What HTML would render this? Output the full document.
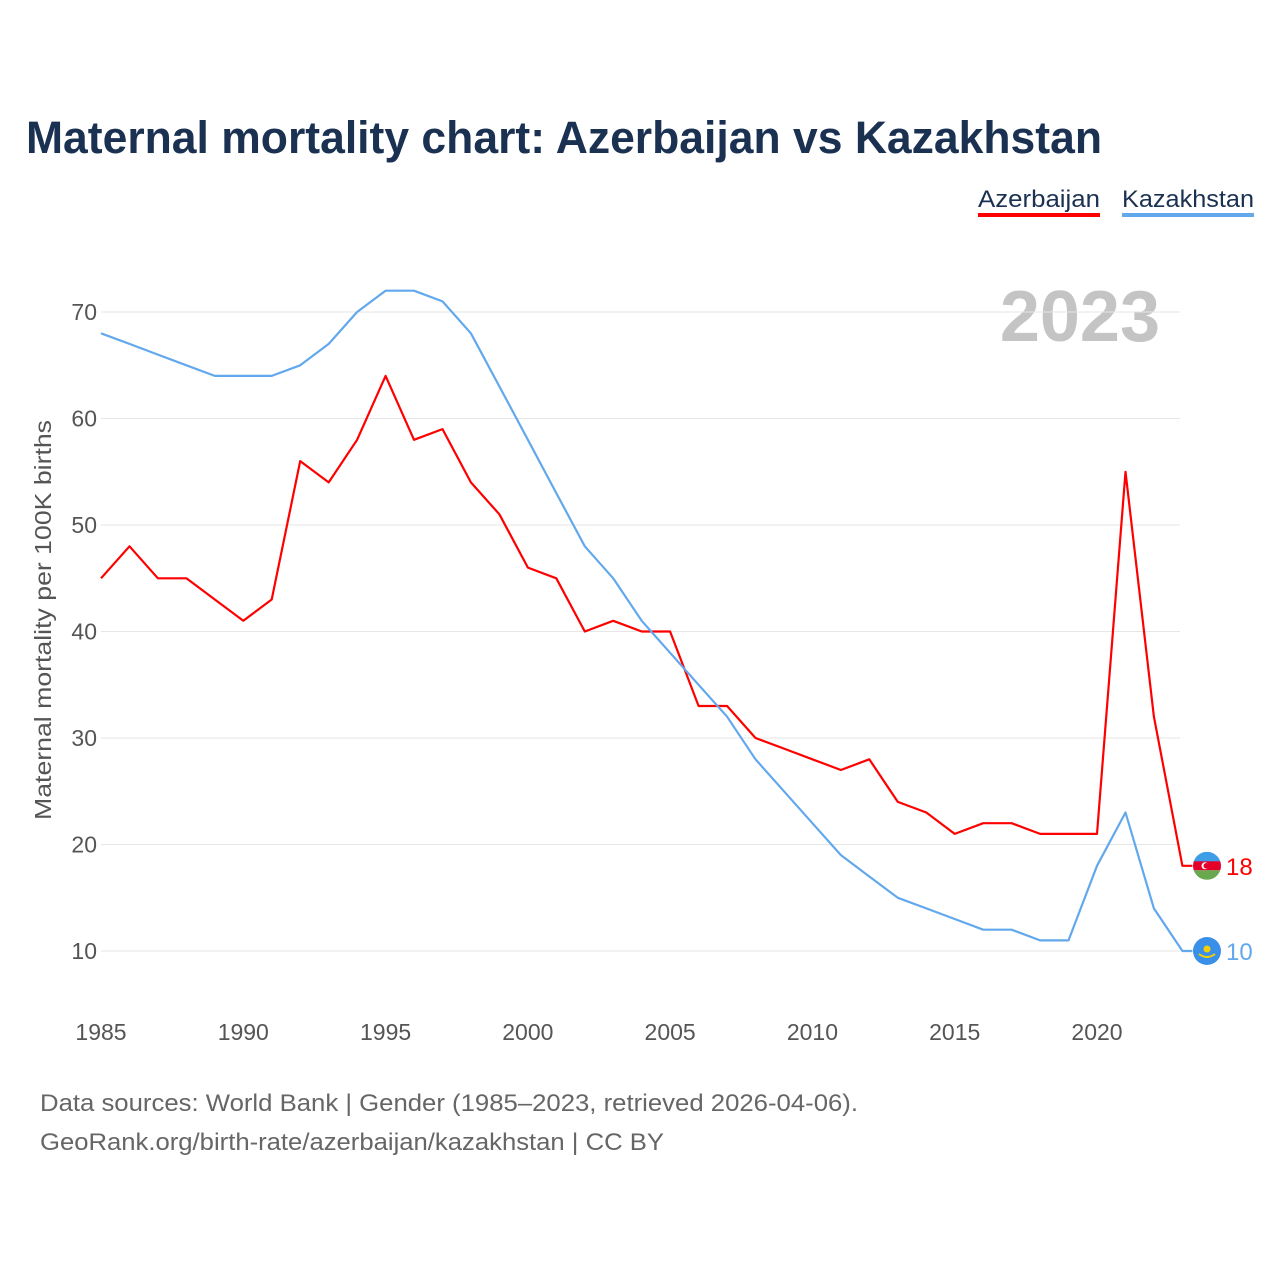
<!DOCTYPE html>
<html><head><meta charset="utf-8"><style>
body{margin:0;background:#fff;font-family:"Liberation Sans",sans-serif}
</style></head><body>
<svg id="c" width="1280" height="1280" viewBox="0 0 1280 1280" xmlns="http://www.w3.org/2000/svg" style="font-family:'Liberation Sans',sans-serif">
<text x="26" y="153" font-size="45" font-weight="bold" fill="#1b3152" textLength="1076" lengthAdjust="spacingAndGlyphs">Maternal mortality chart: Azerbaijan vs Kazakhstan</text>
<g><text x="978" y="207" font-size="24" fill="#1b3152" textLength="122" lengthAdjust="spacingAndGlyphs">Azerbaijan</text><rect x="978" y="213" width="122" height="4" fill="#f00"/></g>
<g><text x="1122" y="207" font-size="24" fill="#1b3152" textLength="132" lengthAdjust="spacingAndGlyphs">Kazakhstan</text><rect x="1122" y="213" width="132" height="4" fill="#62a8ec"/></g>
<text x="1160" y="341" font-size="72" font-weight="bold" fill="#c4c4c4" text-anchor="end">2023</text>
<text transform="translate(51,620) rotate(-90)" font-size="23" fill="#555" text-anchor="middle" textLength="400" lengthAdjust="spacingAndGlyphs">Maternal mortality per 100K births</text>
<g id="grid"></g><g id="xt"></g><g id="lines"></g>
<text x="40" y="1111" font-size="24" fill="#666" textLength="818" lengthAdjust="spacingAndGlyphs">Data sources: World Bank | Gender (1985–2023, retrieved 2026-04-06).</text>
<text x="40" y="1150" font-size="24" fill="#666" textLength="624" lengthAdjust="spacingAndGlyphs">GeoRank.org/birth-rate/azerbaijan/kazakhstan | CC BY</text>
</svg>
<script>
const years=[];for(let y=1985;y<=2023;y++)years.push(y);
const azerbaijan=[45,48,45,45,43,41,43,56,54,58,64,58,59,54,51,46,45,40,41,40,40,33,33,30,29,28,27,28,24,23,21,22,22,21,21,21,55,32,18];
const kazakhstan=[68,67,66,65,64,64,64,65,67,70,72,72,71,68,63,58,53,48,45,41,38,35,32,28,25,22,19,17,15,14,13,12,12,11,11,18,23,14,10];
const yTicks=[10,20,30,40,50,60,70];
const xTicks=[1985,1990,1995,2000,2005,2010,2015,2020];
const NS="http://www.w3.org/2000/svg";
const X=y=>101+(y-1985)*(996/35);
const Y=v=>951-(v-10)*(639/60);
function mk(t,a,p){const e=document.createElementNS(NS,t);for(const k in a)e.setAttribute(k,a[k]);p.appendChild(e);return e;}
const g=document.getElementById('grid');
yTicks.forEach(v=>{
 const l=mk('line',{x1:101,x2:1180,y1:Y(v),y2:Y(v),stroke:'#e6e6e6','stroke-width':1},g);
 
 
 const t=mk('text',{x:97,y:Y(v)+8,'font-size':23,fill:'#555','text-anchor':'end'},g);t.textContent=v;
 
 
});
const xt=document.getElementById('xt');
xTicks.forEach(v=>{
 const t=mk('text',{x:X(v),y:1040,'font-size':23,fill:'#555','text-anchor':'middle'},xt);t.textContent=v;
 
 
});
const L=document.getElementById('lines');
function series(vals,col,name){
 let d=vals.map((v,i)=>(i?'L':'M')+X(years[i]).toFixed(1)+' '+Y(v).toFixed(1)).join(' ');
 const last=vals[vals.length-1];
 d+=' L'+(X(2023)+10)+' '+Y(last).toFixed(1);
 const p=mk('path',{d:d,fill:'none',stroke:col,'stroke-width':2.2,'stroke-linejoin':'round'},L);
 
 
 const t=mk('text',{x:1226,y:Y(last)+9,'font-size':24,fill:col},L);t.textContent=last;
 
 
 return Y(last);
}
const ya=series(azerbaijan,'#f00','azerbaijan');
const yk=series(kazakhstan,'#62a8ec','kazakhstan');
const fa=mk('g',{},L);


mk('clipPath',{id:'ca'},fa).appendChild(document.createElementNS(NS,'circle'));
const ca=fa.querySelector('#ca circle');ca.setAttribute('cx',1207);ca.setAttribute('cy',ya);ca.setAttribute('r',14);
const ga=mk('g',{'clip-path':'url(#ca)'},fa);
mk('rect',{x:1193,y:ya-14,width:28,height:10,fill:'#3f9ce6'},ga);
mk('rect',{x:1193,y:ya-4.5,width:28,height:9,fill:'#e4002b'},ga);
mk('rect',{x:1193,y:ya+4.5,width:28,height:10,fill:'#6aa84f'},ga);
mk('circle',{cx:1205,cy:ya,r:3.5,fill:'#fff'},fa);
mk('circle',{cx:1206.3,cy:ya,r:2.8,fill:'#e4002b'},fa);
const fk=mk('g',{},L);


mk('circle',{cx:1207,cy:yk,r:14,fill:'#3a8fe8'},fk);
mk('circle',{cx:1207,cy:yk-2,r:3.5,fill:'#f5d000'},fk);
mk('path',{d:`M1199 ${yk+3} Q1207 ${yk+9} 1215 ${yk+3}`,fill:'none',stroke:'#f5d000','stroke-width':2},fk);
</script>
</body></html>
